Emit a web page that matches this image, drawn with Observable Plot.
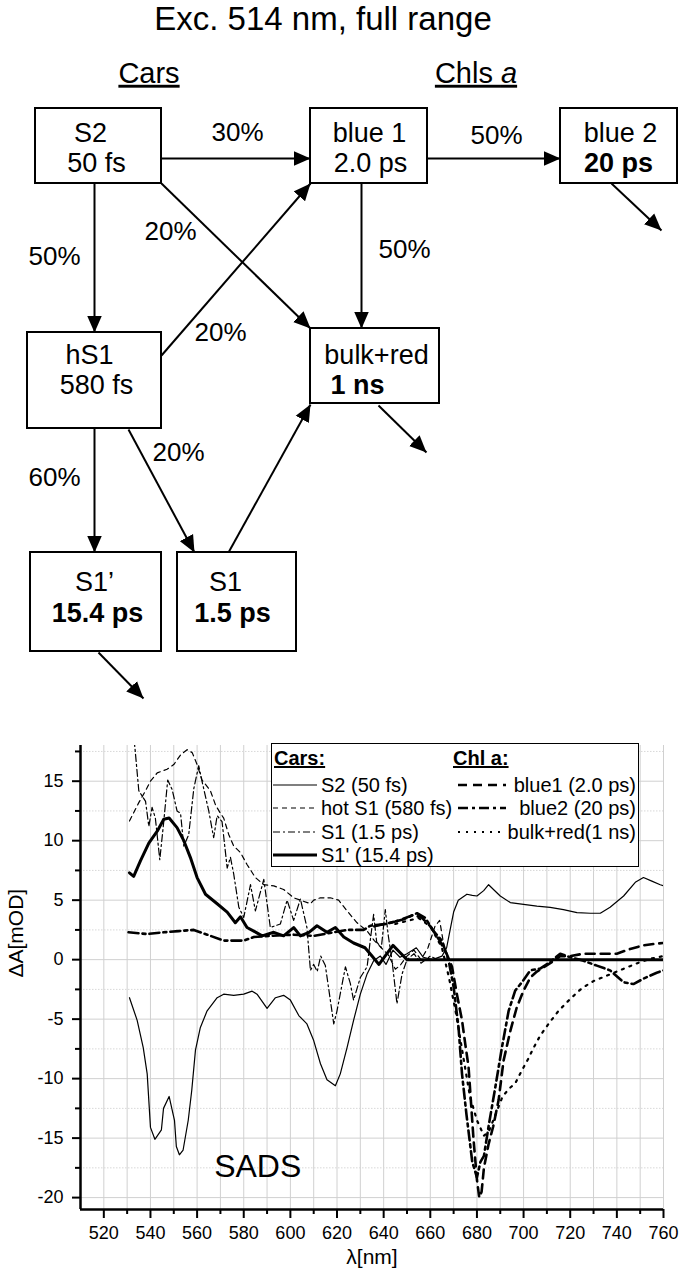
<!DOCTYPE html>
<html>
<head>
<meta charset="utf-8">
<script src="https://cdn.jsdelivr.net/npm/d3@7"></script>
<script src="https://cdn.jsdelivr.net/npm/@observablehq/plot@0.6"></script>
<style>
  body { margin: 0; background: #fff; font-family: "Liberation Sans", Arial, sans-serif; color: #000; }
  #title { height: 45px; line-height: 37px; font-size: 33px; text-align: center; padding-right: 35px; }
  svg { display: block; }
  #sadsWrap { position: relative; width: 681px; height: 570px; }
  #legend { position: absolute; left: 271px; top: 33px; width: 368px; height: 124px; box-sizing: border-box;
            border: 1.5px solid #000; background: #fff; font-size: 20px; }
  #legend .item { position: absolute; height: 24px; display: flex; align-items: center; white-space: nowrap; }
  #legend .hdr { font-weight: bold; text-decoration: underline; }
</style>
</head>
<body>
<div id="title">Exc. 514 nm, full range</div>
<div id="diagram"></div>
<div id="sadsWrap"><div id="legend"></div></div>
<script>
// ---------------- Kinetic scheme (layout units: 1 unit = 10 px) ----------------
const headers = [
  {text: "Cars", cx: 14.85, cy: 7.3},
  {text: "Chls a", cx: 47.55, cy: 7.3}
];
const nodes = [
  {id: "S2",       x1: 3.5,  x2: 16.1, y1: 10.8, y2: 18.3, line1: "S2",       l1x: 9.0,  l1y: 13.3, line2: "50 fs",   l2x: 9.6,  l2y: 16.3, bold: false},
  {id: "blue1",    x1: 31.0, x2: 42.7, y1: 10.8, y2: 18.3, line1: "blue 1",   l1x: 36.9, l1y: 13.3, line2: "2.0 ps",  l2x: 37.0, l2y: 16.3, bold: false},
  {id: "blue2",    x1: 56.0, x2: 67.7, y1: 10.8, y2: 18.3, line1: "blue 2",   l1x: 62.0, l1y: 13.3, line2: "20 ps",   l2x: 61.8, l2y: 16.3, bold: true},
  {id: "hS1",      x1: 2.7,  x2: 16.1, y1: 33.2, y2: 42.8, line1: "hS1",      l1x: 8.9,  l1y: 35.5, line2: "580 fs",  l2x: 9.6,  l2y: 38.5, bold: false},
  {id: "bulkred",  x1: 31.0, x2: 43.9, y1: 32.8, y2: 40.3, line1: "bulk+red", l1x: 37.6, l1y: 35.5, line2: "1 ns",    l2x: 35.7, l2y: 38.5, bold: true},
  {id: "S1p",      x1: 3.0,  x2: 16.1, y1: 55.2, y2: 65.1, line1: "S1\u2019", l1x: 9.4,  l1y: 58.2, line2: "15.4 ps", l2x: 9.7,  l2y: 61.3, bold: true},
  {id: "S1",       x1: 17.7, x2: 29.6, y1: 55.2, y2: 65.1, line1: "S1",       l1x: 22.5, l1y: 58.2, line2: "1.5 ps",  l2x: 23.2, l2y: 61.3, bold: true}
];
const edges = [
  {from: "S2",      to: "blue1",   x1: 16.1, y1: 15.8, x2: 31.0, y2: 15.8, label: "30%", lx: 23.7, ly: 13.2},
  {from: "blue1",   to: "blue2",   x1: 42.7, y1: 15.8, x2: 56.0, y2: 15.8, label: "50%", lx: 49.6, ly: 13.5},
  {from: "blue2",   to: "out",     x1: 61.1, y1: 18.3, x2: 66.1, y2: 23.0, label: "",    lx: 0,    ly: 0},
  {from: "S2",      to: "hS1",     x1: 9.4,  y1: 18.3, x2: 9.4,  y2: 33.2, label: "50%", lx: 5.4,  ly: 25.6},
  {from: "S2",      to: "bulkred", x1: 16.1, y1: 18.3, x2: 31.0, y2: 32.8, label: "20%", lx: 17.0, ly: 23.1},
  {from: "hS1",     to: "blue1",   x1: 16.1, y1: 35.5, x2: 31.0, y2: 18.3, label: "20%", lx: 22.0, ly: 33.2},
  {from: "blue1",   to: "bulkred", x1: 36.1, y1: 18.3, x2: 36.1, y2: 32.8, label: "50%", lx: 40.4, ly: 24.9},
  {from: "bulkred", to: "out",     x1: 37.8, y1: 40.5, x2: 42.6, y2: 45.2, label: "",    lx: 0,    ly: 0},
  {from: "hS1",     to: "S1p",     x1: 9.4,  y1: 42.8, x2: 9.4,  y2: 55.2, label: "60%", lx: 5.4,  ly: 47.7},
  {from: "hS1",     to: "S1",      x1: 12.8, y1: 42.9, x2: 19.4, y2: 55.2, label: "20%", lx: 17.8, ly: 45.2},
  {from: "S1",      to: "bulkred", x1: 22.8, y1: 55.2, x2: 31.0, y2: 40.4, label: "",    lx: 0,    ly: 0},
  {from: "S1p",     to: "out",     x1: 9.8,  y1: 65.2, x2: 14.3, y2: 69.8, label: "",    lx: 0,    ly: 0}
];

// ---------------- SADS data (wavelength nm, ΔA mOD) ----------------
const s2 = [[531,-3.2],[534.3,-5.1],[536.9,-7.4],[538.6,-9.6],[540,-14.1],[541.9,-15.1],[544.7,-14.3],[545.6,-12.5],[548,-11.5],[550.3,-13.5],[551.1,-15.7],[552.4,-16.4],[554,-16.0],[556.2,-13.5],[557.7,-11.0],[559.3,-7.6],[561.4,-5.7],[564.3,-4.3],[568.6,-3.2],[571.4,-2.9],[575.7,-3.0],[580,-2.9],[583.6,-2.65],[585.7,-2.9],[590,-4.1],[593.6,-3.2],[597.1,-3.0],[600,-3.4],[603.6,-4.7],[607.1,-5.4],[610,-6.8],[612.9,-8.75],[615.7,-10.1],[619.3,-10.6],[621.4,-9.6],[624.3,-7.4],[627.1,-5.1],[630,-2.9],[632.9,-1.2],[635.7,-0.1],[638.6,0.3],[641,-0.4],[644,0.8],[647,0.2],[650,0.5],[654,1.0],[657,0.2],[661,0.0],[665,0.3],[667,1.0],[668.5,2.5],[670,4.0],[672,5.0],[675.7,5.5],[678,5.4],[680,5.35],[682.9,5.8],[685,6.3],[687.1,5.9],[690,5.35],[694.3,4.8],[700,4.65],[705.7,4.5],[711.4,4.4],[717.1,4.2],[722.9,3.95],[728.6,3.9],[732.9,3.9],[737.1,4.4],[742.9,5.35],[747.9,6.5],[751.4,6.9],[755,6.6],[758.6,6.3],[760,6.2]];
const hotS1 = [[531,11.65],[535,13.2],[537.9,14.2],[540,15.0],[542.9,15.7],[547.1,16.0],[550,16.4],[552.9,17.2],[555.7,17.65],[557.9,17.4],[560,16.4],[562.1,15.1],[565.7,14.2],[567.9,13.0],[570,12.3],[571.4,11.9],[573.6,10.5],[575.7,9.55],[578.6,9.0],[581.4,8.0],[585,6.9],[588.6,6.3],[592.9,6.2],[597.1,5.9],[601.4,5.2],[604.3,5.0],[608.6,4.7],[610,5.0],[612.9,5.2],[617.1,5.2],[620.7,5.0],[624.3,4.1],[628.6,3.1],[632.9,2.4],[636,1.6],[639,1.0],[642,0.4],[645,-0.8],[647,-0.5],[650,0.3],[653,0.8],[656,0.0],[659,1.0],[662,2.8],[664,3.3],[666,1.0],[668,0],[760,0]];
const s1 = [[531,21],[533.3,17.9],[535,14.2],[537.9,13.3],[539.3,11.2],[540.7,12.8],[542.1,11.9],[544,8.4],[545.7,11.6],[547.4,15.1],[549.3,14.3],[551.4,12.5],[552.9,12.3],[554.3,9.55],[556.4,10.5],[558.6,14.4],[560.7,16.3],[562.1,15.0],[565,12.5],[567.1,10.25],[568.6,12.1],[570.7,11.6],[572.9,7.7],[574.3,8.6],[575.7,7.2],[577.9,4.4],[580,3.55],[582.9,6.3],[585,4.1],[588.6,6.75],[591.4,2.7],[595.7,3.0],[598.6,5.0],[601.4,3.3],[604.3,5.1],[607.1,2.7],[608.6,-0.9],[610,-0.4],[611.5,-1.0],[613,0.3],[615,-0.5],[618.6,-5.4],[620,-4.3],[623.6,-0.6],[625.7,-2.0],[627.1,-3.4],[630,-1.5],[632.9,-0.6],[634.5,2.0],[635.7,3.8],[637,1.5],[639,1.0],[640.7,4.2],[642,2.0],[643.6,-0.1],[645.7,-3.7],[647.9,-1.2],[650,0.0],[653,0.5],[656,-0.3],[660,0.3],[663,0],[760,0]];
const s1p = [[531,7.3],[532.8,7.0],[535.7,8.3],[539.3,9.8],[542.9,10.8],[545.7,11.8],[548,11.9],[551.4,11.1],[554.3,10.0],[557.1,8.6],[560,6.9],[563.6,5.5],[568.6,4.7],[572.9,4.0],[576.4,3.1],[578.6,3.6],[581.4,2.7],[584.3,2.4],[587.9,2.0],[592.9,2.3],[597.1,2.0],[601.4,2.7],[604.3,2.0],[608,2.3],[611.4,2.85],[615.7,2.3],[619.3,2.7],[622.9,1.9],[627.1,1.4],[632,1.0],[635,0.3],[638,-0.4],[641,0.4],[644,1.2],[647,0.6],[650,0.0],[655,0],[760,0]];
const blue1 = [[636,2.8],[645,3.2],[652,3.7],[656,3.6],[660,2.8],[664,1.6],[667,0.5],[669.3,-0.6],[671.4,-2.9],[673.6,-5.1],[675,-7.1],[676.4,-9.0],[677.1,-11],[678.5,-15],[680,-18.5],[681,-20],[682,-19.5],[683,-17.5],[685,-15.5],[687,-14],[689.3,-11.8],[691.4,-8.5],[694.3,-6.0],[697.1,-4.0],[700,-2.6],[702.9,-1.5],[705.7,-1.0],[708.6,-0.65],[712.1,-0.2],[715.7,0.3],[720,0.3],[725.7,0.5],[734.3,0.5],[740,0.5],[745.7,0.9],[751.4,1.2],[757.1,1.35],[760,1.4]];
const blue2 = [[530.6,2.3],[538.6,2.15],[545.7,2.3],[552,2.4],[558.6,2.5],[564.3,2.1],[571.4,1.6],[580,1.6],[584.3,1.9],[591.4,2.0],[601.4,2.1],[610,2.0],[618.6,2.3],[624.3,2.5],[631.4,2.5],[634.3,2.85],[641,3.0],[648.6,3.4],[654.3,3.9],[657.9,3.5],[661.4,2.4],[665,1.6],[667.9,-0.1],[670,-2.3],[672.1,-5.7],[673.6,-9.6],[675.5,-13.0],[678,-17.0],[680,-18.3],[681.5,-17.0],[683,-16.5],[685,-14.0],[687.9,-10.7],[690.7,-7.4],[693.6,-4.3],[696.4,-2.6],[699.3,-1.9],[702.9,-0.9],[707.1,-0.75],[711.4,-0.2],[715.7,0.5],[720,0.2],[725.7,-0.1],[731.4,-0.5],[737.1,-0.9],[742.9,-1.9],[747.1,-2.05],[751.4,-1.6],[757.1,-1.1],[760,-0.9]];
const bulkRed = [[645,3.0],[655,3.5],[660,2.8],[665,1.0],[668,-1.5],[671,-4.5],[674,-8],[677,-11.5],[680,-13.5],[683,-14.8],[685,-14.5],[688,-13],[691,-11.5],[694,-10.8],[696.4,-10.4],[699.3,-9.3],[702.1,-8.3],[704.3,-7.4],[707.1,-6.4],[710.7,-5.4],[715,-4.3],[720,-3.3],[725,-2.4],[730,-1.8],[735,-1.4],[740,-1.0],[745,-0.6],[750,-0.2],[755,0.1],[760,0.3]];

const xTicks = [520,540,560,580,600,620,640,660,680,700,720,740,760];
const xMinorTicks = [530,550,570,590,610,630,650,670,690,710,730,750];
const xGrid = [520,530,540,550,560,570,580,590,600,610,620,630,640,650,660,670,680,690,700,710,720,730,740,750,760];
const yTicks = [-20,-15,-10,-5,0,5,10,15];
const yMinorTicks = [-17.5,-12.5,-7.5,-2.5,2.5,7.5,12.5,17.5];
const annotations = [{text: "SADS", x: 586, y: -17.4}];

const series = [
  {key: "S2",     label: "S2 (50 fs)",       group: "Cars",  data: s2,      width: 1.2, dash: null},
  {key: "hotS1",  label: "hot S1 (580 fs)",  group: "Cars",  data: hotS1,   width: 1.2, dash: "5,4"},
  {key: "S1",     label: "S1 (1.5 ps)",      group: "Cars",  data: s1,      width: 1.2, dash: "7,3,2,3"},
  {key: "S1p",    label: "S1' (15.4 ps)",    group: "Cars",  data: s1p,     width: 3, dash: null},
  {key: "blue1",  label: "blue1 (2.0 ps)",   group: "Chl a", data: blue1,   width: 2.6, dash: "9,6"},
  {key: "blue2",  label: "blue2 (20 ps)",    group: "Chl a", data: blue2,   width: 2.6, dash: "10,4,3,4"},
  {key: "bulkRed",label: "bulk+red(1 ns)",   group: "Chl a", data: bulkRed, width: 2.2, dash: "2,6"}
];

const FONT = "Liberation Sans, Arial, Helvetica, sans-serif";

// ---------------- Diagram ----------------
const diagram = Plot.plot({
  width: 681, height: 665,
  marginTop: 0, marginRight: 0, marginBottom: 0, marginLeft: 0,
  x: {domain: [0, 68.1], axis: null},
  y: {domain: [4.5, 71], reverse: true, axis: null},
  style: {fontFamily: FONT, background: "white", color: "black", overflow: "visible"},
  marks: [
    Plot.link(edges, {x1: "x1", y1: "y1", x2: "x2", y2: "y2", stroke: "black", strokeWidth: 2, markerEnd: "arrow"}),
    Plot.rect(nodes, {x1: "x1", x2: "x2", y1: "y1", y2: "y2", fill: "white", stroke: "black", strokeWidth: 2}),
    Plot.text(nodes, {x: "l1x", y: "l1y", text: "line1", fontSize: 27}),
    Plot.text(nodes.filter(d => !d.bold), {x: "l2x", y: "l2y", text: "line2", fontSize: 27}),
    Plot.text(nodes.filter(d => d.bold), {x: "l2x", y: "l2y", text: "line2", fontSize: 27, fontWeight: "bold"}),
    Plot.text(edges.filter(d => d.label), {x: "lx", y: "ly", text: "label", fontSize: 26}),
    Plot.text(headers, {x: "cx", y: "cy", text: "text", fontSize: 29})
  ]
});
document.getElementById("diagram").appendChild(diagram);

// filled triangular arrowheads
d3.select(diagram).selectAll("marker").each(function () {
  const m = d3.select(this);
  m.attr("viewBox", "-17 -8 17 16").attr("markerUnits", "userSpaceOnUse")
   .attr("markerWidth", 17).attr("markerHeight", 16)
   .attr("fill", "black").attr("stroke", "none");
  m.selectAll("path").attr("d", "M-17,-7.5L0,0L-17,7.5Z");
});
// underline headers, italic "a"
d3.select(diagram).selectAll("text").each(function () {
  const t = this.textContent;
  if (t === "Cars" || t === "Chls a") this.style.textDecoration = "underline";
  if (t === "Chls a") {
    this.textContent = "Chls ";
    d3.select(this).append("tspan").attr("font-style", "italic").text("a");
  }
});

// ---------------- SADS plot ----------------
const sads = Plot.plot({
  width: 681, height: 570,
  marginTop: 35, marginRight: 18, marginBottom: 71, marginLeft: 80,
  x: {domain: [510, 760]},
  y: {domain: [-21, 18]},
  style: {fontFamily: FONT, fontSize: "18px", background: "white", color: "black", overflow: "visible"},
  marks: [
    Plot.ruleX(xGrid, {stroke: "#d0d0d0", strokeWidth: 1}),
    Plot.ruleY(yMinorTicks, {stroke: "#d8d8d8", strokeWidth: 1, strokeDasharray: "1.5,1.5"}),
    Plot.ruleY(yTicks, {stroke: "#d0d0d0", strokeWidth: 1}),
    ...series.map(s => Plot.line(s.data, {
      x: d => d[0], y: d => d[1], stroke: "black", strokeWidth: s.width,
      strokeDasharray: s.dash ?? undefined, clip: true, strokeLinejoin: "round"
    })),
    Plot.text(annotations, {x: "x", y: "y", text: "text", fontSize: 32}),
    Plot.axisX(xTicks, {tickSize: 9, tickPadding: 8, strokeWidth: 2, fontSize: 18, tickFormat: d => String(d), label: null}),
    Plot.axisX(xMinorTicks, {tickSize: 5, strokeWidth: 2, tickFormat: () => "", label: null}),
    Plot.axisY(yTicks, {tickSize: 8, tickPadding: 9, strokeWidth: 2, fontSize: 18, tickFormat: d => String(d), label: null}),
    Plot.axisY(yMinorTicks, {tickSize: 5, strokeWidth: 2, tickFormat: () => "", label: null}),
    Plot.ruleX([510], {strokeWidth: 2.5}),
    Plot.ruleY([-21], {strokeWidth: 2.5}),
    Plot.text(["\u0394A[mOD]"], {frameAnchor: "left", dx: -64, rotate: -90, fontSize: 21}),
    Plot.text(["\u03bb[nm]"], {frameAnchor: "bottom", dy: 54, fontSize: 21})
  ]
});
d3.select(sads).selectAll('g[aria-label$="tick label"]').attr("font-size", 18)
  .selectAll("text").style("font-size", "18px");
document.getElementById("sadsWrap").insertBefore(sads, document.getElementById("legend"));

// ---------------- Legend ----------------
const legend = document.getElementById("legend");
const rowY = [41, 64, 88, 111];
function sampleSvg(s, w) {
  const dash = s.dash ? ` stroke-dasharray="${s.dash}"` : "";
  return `<svg width="${w}" height="10"><line x1="0" x2="${w}" y1="5" y2="5" stroke="black" stroke-width="${s.width}"${dash}/></svg>`;
}
function addItem(html, style) {
  const el = document.createElement("div");
  el.className = "item";
  Object.assign(el.style, style);
  el.innerHTML = html;
  legend.appendChild(el);
  return el;
}
addItem('<span class="hdr">Cars:</span>', {left: "2px", top: (14 - 12) + "px"});
addItem('<span class="hdr">Chl a:</span>', {left: "181px", top: (14 - 12) + "px"});
series.filter(s => s.group === "Cars").forEach((s, i) => {
  addItem(sampleSvg(s, 44), {left: "1px", top: (rowY[i] - 12) + "px"});
  addItem(s.label, {left: "49px", top: (rowY[i] - 12) + "px"});
});
series.filter(s => s.group === "Chl a").forEach((s, i) => {
  addItem(sampleSvg(s, 48), {left: "186px", top: (rowY[i] - 12) + "px"});
  addItem(s.label, {right: "2px", top: (rowY[i] - 12) + "px"});
});
</script>
</body>
</html>
